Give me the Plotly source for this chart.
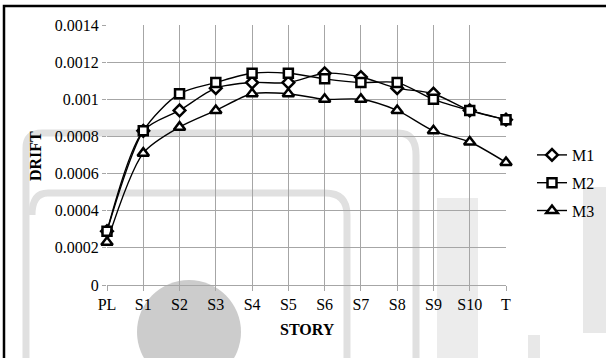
import plotly.graph_objects as go

# Story levels and inter-story drift for three models
stories = ["PL", "S1", "S2", "S3", "S4", "S5", "S6", "S7", "S8", "S9", "S10", "T"]
m1 = [0.00029, 0.00083, 0.00094, 0.00106, 0.00109, 0.00109, 0.00114, 0.00112, 0.00106, 0.00103, 0.00094, 0.00089]
m2 = [0.00029, 0.00083, 0.00103, 0.00109, 0.00114, 0.00114, 0.00111, 0.00109, 0.00109, 0.00100, 0.00094, 0.00089]
m3 = [0.00023, 0.00071, 0.00085, 0.00094, 0.00103, 0.00103, 0.00100, 0.00100, 0.00094, 0.00083, 0.00077, 0.00066]

y_ticks = [0, 0.0002, 0.0004, 0.0006, 0.0008, 0.001, 0.0012, 0.0014]
y_tick_text = ["0", "0.0002", "0.0004", "0.0006", "0.0008", "0.001", "0.0012", "0.0014"]

W, H = 606, 358
L, R, T, B = 107, 100, 25, 73
PW, PH = W - L - R, H - T - B
FONT = "Liberation Serif, Times New Roman, serif"


def px(x):
    return (x - L) / PW


def py(y):
    return 1 - (y - T) / PH


fig = go.Figure()

series = [("M1", m1, "diamond", 9), ("M2", m2, "square", 9), ("M3", m3, "triangle-up", 10)]
for name, vals, sym, size in series:
    fig.add_trace(go.Scatter(
        x=list(range(len(stories))), y=vals, name=name, legendgroup=name,
        mode="lines+markers", line=dict(color="black", width=1.4, shape="spline", smoothing=0.8),
        marker=dict(symbol=sym, size=size, color="white", line=dict(color="black", width=2.5)),
        cliponaxis=False,
    ))

# faint background emblem
shapes = []
band = "#e0e0e0"


def path_shape(pts_cmds, width, color):
    return dict(type="path", xref="paper", yref="paper", layer="below",
                path=pts_cmds, line=dict(color=color, width=width))


def P(x, y):
    return f"{px(x):.5f},{py(y):.5f}"


# outer arch
shapes.append(path_shape(
    f"M{P(26, 400)} L{P(26, 148)} Q{P(26, 133)} {P(42, 133)} L{P(398, 133)} Q{P(416, 133)} {P(416, 155)} L{P(416, 400)}",
    7, band))
# inner arch
shapes.append(path_shape(
    f"M{P(32, 215)} Q{P(32, 193)} {P(48, 193)} L{P(325, 193)} Q{P(347, 193)} {P(347, 215)} L{P(347, 400)}",
    7, band))
# vertical blocks
for x0, y0, x1, y1, c in [(437, 198, 478, 400, "#ececec"), (583, 187, 606, 333, "#e8e8e8"),
                          (528, 335, 540, 400, "#e8e8e8")]:
    shapes.append(dict(type="rect", xref="paper", yref="paper", layer="below",
                       x0=px(x0), x1=px(x1), y0=py(y1), y1=py(y0),
                       fillcolor=c, line=dict(width=0)))
# disc
shapes.append(dict(type="circle", xref="paper", yref="paper", layer="below",
                   x0=px(137), x1=px(241), y0=py(384), y1=py(280),
                   fillcolor="#cccccc", line=dict(width=0)))
# outer frame
shapes.append(dict(type="path", xref="paper", yref="paper", layer="above",
                   path=f"M{P(4, 400)} L{P(4, 6)} L{P(620, 6)}",
                   line=dict(color="black", width=2.5)))

fig.update_layout(
    width=W, height=H,
    margin=dict(l=L, r=R, t=T, b=B, pad=0, autoexpand=False),
    paper_bgcolor="white", plot_bgcolor="rgba(0,0,0,0)",
    font=dict(family=FONT, size=16, color="black"),
    shapes=shapes,
    showlegend=True,
    legend=dict(x=px(532), y=py(183), xanchor="left", yanchor="middle",
                font=dict(family=FONT, size=16), bgcolor="rgba(0,0,0,0)",
                traceorder="grouped", tracegroupgap=4, itemwidth=30),
    annotations=[
        dict(text="<b>DRIFT</b>", textangle=-90, xref="paper", yref="paper",
             x=px(35), y=py(156), xanchor="center", yanchor="middle",
             showarrow=False, font=dict(family=FONT, size=16)),
        dict(text="<b>STORY</b>", xref="paper", yref="paper",
             x=px(307), y=py(329), xanchor="center", yanchor="middle",
             showarrow=False, font=dict(family=FONT, size=16)),
    ],
)

fig.update_xaxes(
    range=[0, len(stories) - 1], tickmode="array", tickvals=list(range(len(stories))),
    ticktext=stories, showgrid=True, gridcolor="#a6a6a6", gridwidth=1,
    showline=True, linecolor="#a6a6a6", linewidth=1,
    ticks="outside", ticklen=5, tickcolor="#a6a6a6", zeroline=False,
    tickfont=dict(family=FONT, size=16),
)
fig.update_yaxes(
    range=[0, 0.0014], tickmode="array", tickvals=y_ticks, ticktext=y_tick_text,
    showgrid=True, gridcolor="#a6a6a6", gridwidth=1, showline=False,
    ticks="outside", ticklen=4, tickcolor="#a6a6a6", zeroline=False,
    tickfont=dict(family=FONT, size=16),
)

fig.write_html("out.html")
